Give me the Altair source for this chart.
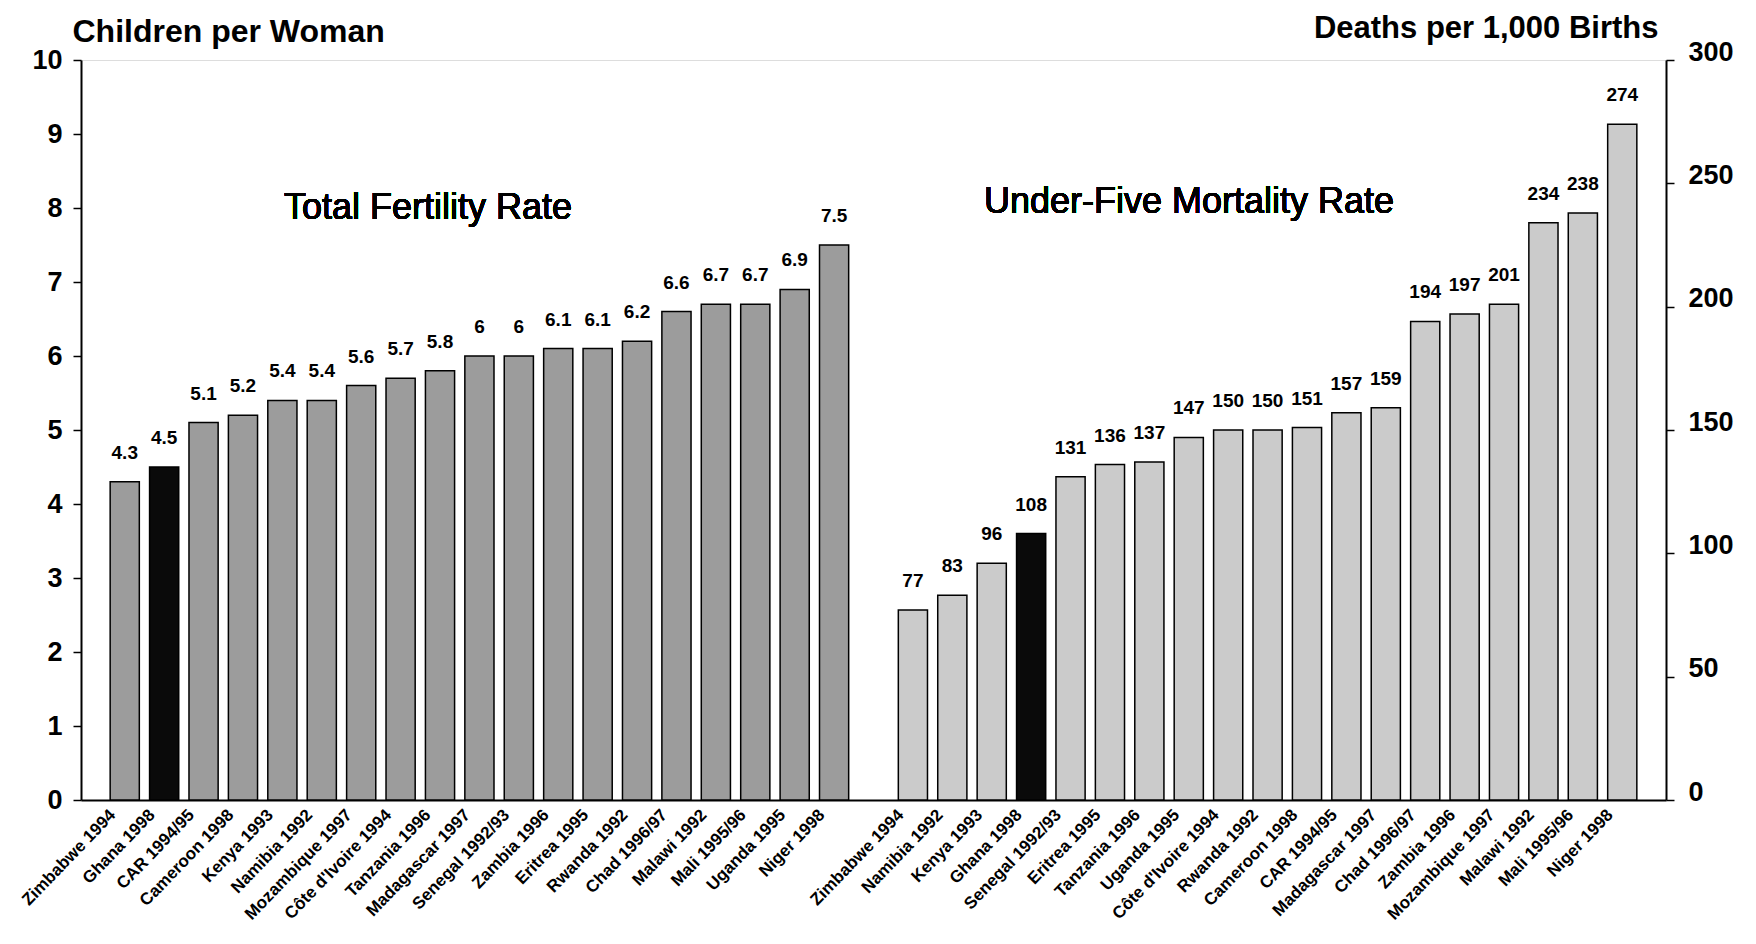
import altair as alt
import pandas as pd

fert_names = ["Zimbabwe 1994", "Ghana 1998", "CAR 1994/95", "Cameroon 1998", "Kenya 1993",
              "Namibia 1992", "Mozambique 1997", "Côte d'Ivoire 1994", "Tanzania 1996",
              "Madagascar 1997", "Senegal 1992/93", "Zambia 1996", "Eritrea 1995", "Rwanda 1992",
              "Chad  1996/97", "Malawi 1992", "Mali 1995/96", "Uganda 1995", "Niger 1998"]
fert_values = [4.3, 4.5, 5.1, 5.2, 5.4, 5.4, 5.6, 5.7, 5.8, 6, 6, 6.1, 6.1, 6.2, 6.6, 6.7, 6.7, 6.9, 7.5]

mort_names = ["Zimbabwe 1994", "Namibia 1992", "Kenya 1993", "Ghana 1998", "Senegal 1992/93",
              "Eritrea 1995", "Tanzania 1996", "Uganda 1995", "Côte d'Ivoire 1994", "Rwanda 1992",
              "Cameroon 1998", "CAR 1994/95", "Madagascar 1997", "Chad  1996/97", "Zambia 1996",
              "Mozambique 1997", "Malawi 1992", "Mali 1995/96", "Niger 1998"]
mort_values = [77, 83, 96, 108, 131, 136, 137, 147, 150, 150, 151, 157, 159, 194, 197, 201, 234, 238, 274]

fert_ticks = list(range(0, 11))
mort_ticks = [0, 50, 100, 150, 200, 250, 300]

fert_df = pd.DataFrame({"key": ["F|" + n for n in fert_names], "country": fert_names, "value": fert_values})
mort_df = pd.DataFrame({"key": ["M|" + n for n in mort_names], "country": mort_names, "value": mort_values})
domain = list(fert_df["key"]) + ["G|"] + list(mort_df["key"])

FONT = "Liberation Sans"
W, H = 1585, 740

x_enc = alt.X("key:N", sort=domain,
              scale=alt.Scale(domain=domain, paddingInner=0.26, paddingOuter=0.74),
              axis=alt.Axis(title="", labelExpr="split(datum.value, '|')[1]", labelAngle=-46,
                            labelFontSize=17, labelFontWeight="bold", labelFont=FONT,
                            ticks=False, labelPadding=12, labelOffset=-12, domainColor="black", domainWidth=2,
                            labelColor="black", labelOverlap=False))

fert_y = alt.Y("value:Q", scale=alt.Scale(domain=[0, 10], nice=False),
               axis=alt.Axis(orient="left", values=fert_ticks, format="d", grid=False, title="Children per Woman",
                             titleAngle=0, titleX=-9, titleY=-19, titleAlign="left",
                             titleBaseline="alphabetic", titleFontSize=32, titleFontWeight="bold",
                             titleFont=FONT, titleColor="black",
                             labelFontSize=27, labelFontWeight="bold", labelFont=FONT, labelColor="black",
                             tickSize=8, tickColor="black", tickWidth=1.5, labelPadding=11,
                             domainColor="black", domainWidth=2))

mort_y = alt.Y("value:Q", scale=alt.Scale(domain=[0, 300], nice=False),
               axis=alt.Axis(orient="right", values=mort_ticks, format="d", grid=False,
                             title="Deaths per 1,000 Births",
                             titleAngle=0, titleX=-8, titleY=-23, titleAlign="right",
                             titleBaseline="alphabetic", titleFontSize=31, titleFontWeight="bold",
                             titleFont=FONT, titleColor="black",
                             labelFontSize=27, labelFontWeight="bold", labelFont=FONT, labelColor="black",
                             labelOffset=-8, tickSize=8, tickColor="black", tickWidth=1.5, labelPadding=14,
                             domainColor="black", domainWidth=2))

fert_bars = alt.Chart(fert_df).mark_bar(stroke="black", strokeWidth=1.5).encode(
    x=x_enc, y=fert_y,
    color=alt.condition(alt.datum.country == "Ghana 1998", alt.value("#0a0a0a"), alt.value("#9c9c9c")))
fert_text = alt.Chart(fert_df).mark_text(font=FONT, fontSize=19, fontWeight="bold", dy=-29,
                                         baseline="middle", color="black").encode(
    x=alt.X("key:N", sort=domain), y=alt.Y("value:Q"), text=alt.Text("value:Q"))
fert_title = alt.Chart(fert_df).mark_text(font=FONT, fontSize=36, baseline="middle", align="center",
                                          color="black").encode(
    x=alt.value(347), y=alt.value(148), text=alt.value("Total Fertility Rate"))
fert_layer = alt.layer(fert_bars, fert_text, fert_title)

mort_bars = alt.Chart(mort_df).mark_bar(stroke="black", strokeWidth=1.5).encode(
    x=x_enc, y=mort_y,
    color=alt.condition(alt.datum.country == "Ghana 1998", alt.value("#0a0a0a"), alt.value("#cbcbcb")))
mort_text = alt.Chart(mort_df).mark_text(font=FONT, fontSize=19, fontWeight="bold", dy=-29,
                                         baseline="middle", color="black").encode(
    x=alt.X("key:N", sort=domain), y=alt.Y("value:Q"), text=alt.Text("value:Q"))
mort_title = alt.Chart(mort_df).mark_text(font=FONT, fontSize=36, baseline="middle", align="center",
                                          color="black").encode(
    x=alt.value(1108), y=alt.value(142), text=alt.value("Under-Five Mortality Rate"))
mort_layer = alt.layer(mort_bars, mort_text, mort_title)

chart = alt.layer(fert_layer, mort_layer).resolve_scale(y="independent").properties(
    width=W, height=H, autosize="none",
    padding={"left": 73, "top": 52, "right": 75, "bottom": 136},
    background="white",
).configure_view(stroke="black", strokeWidth=2).configure(font=FONT)

chart.save("out.html", embed_options={"renderer": "svg", "actions": False})
